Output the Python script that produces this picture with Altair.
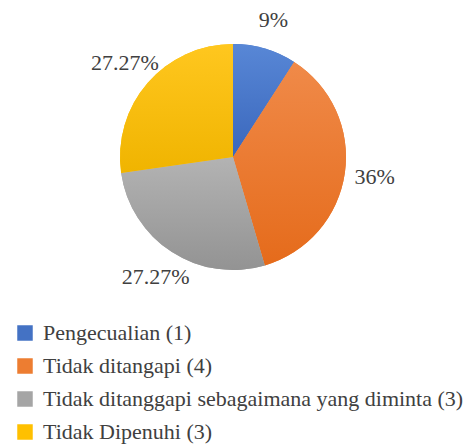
import altair as alt
import pandas as pd

categories = [
    "Pengecualian (1)",
    "Tidak ditangapi (4)",
    "Tidak ditanggapi sebagaimana yang diminta (3)",
    "Tidak Dipenuhi (3)",
]
counts = [1, 4, 3, 3]
labels = ["9%", "36%", "27.27%", "27.27%"]
colors = ["#4472C4", "#ED7D31", "#A5A5A5", "#FFC000"]
grad_top = ["#5887D6", "#F08A49", "#B3B3B3", "#FFC71F"]
grad_bot = ["#3A67BC", "#E56B1B", "#939393", "#F0B400"]

df = pd.DataFrame({
    "idx": list(range(len(categories))),
    "category": categories,
    "count": counts,
    "label": labels,
})

CX, CY, R = 233, 157, 113
FONT = "Tinos"

base = (
    alt.Chart(df)
    .transform_joinaggregate(total="sum(count)")
    .transform_window(cum="sum(count)", sort=[alt.SortField("idx")], frame=[None, 0])
    .transform_calculate(
        t1="2*PI*(datum.cum-datum.count)/datum.total",
        t2="2*PI*datum.cum/datum.total",
    )
    .transform_calculate(tm="(datum.t1+datum.t2)/2")
)

color_scale = alt.Scale(domain=categories, range=colors)

legend_layer = base.mark_arc(outerRadius=R).encode(
    theta=alt.Theta("t1:Q", scale=None),
    theta2="t2:Q",
    x=alt.value(CX),
    y=alt.value(CY),
    color=alt.Color(
        "category:N",
        scale=color_scale,
        sort=categories,
        legend=alt.Legend(
            title=None,
            orient="none",
            legendX=14,
            legendY=322,
            direction="vertical",
            symbolType="square",
            symbolSize=240,
            symbolStrokeWidth=0,
            labelFont=FONT,
            labelFontSize=22,
            labelColor="#404040",
            labelOffset=7,
            rowPadding=11,
            labelLimit=0,
            padding=0,
        ),
    ),
)

layers = [legend_layer]
for i, cat in enumerate(categories):
    grad = {
        "gradient": "linear",
        "x1": 0, "y1": 0, "x2": 0, "y2": 1,
        "stops": [
            {"offset": 0, "color": grad_top[i]},
            {"offset": 1, "color": grad_bot[i]},
        ],
    }
    layers.append(
        base.transform_filter(alt.datum.category == cat)
        .mark_arc(outerRadius=R)
        .encode(
            theta=alt.Theta("t1:Q", scale=None),
            theta2="t2:Q",
            x=alt.value(CX),
            y=alt.value(CY),
            fill=alt.value(grad),
        )
    )

text_layer = base.mark_text(
    radius=143, font=FONT, fontSize=22, color="#404040", align="center", baseline="middle"
).encode(
    theta=alt.Theta("tm:Q", scale=None),
    x=alt.value(CX),
    y=alt.value(CY),
    text="label:N",
)
layers.append(text_layer)

chart = (
    alt.layer(*layers)
    .properties(width=469, height=445, autosize=alt.AutoSizeParams(type="none"), padding=0)
    .configure(font=FONT)
    .configure_view(stroke=None)
)

chart.save("out.html", embed_options={"renderer": "svg", "actions": False})
